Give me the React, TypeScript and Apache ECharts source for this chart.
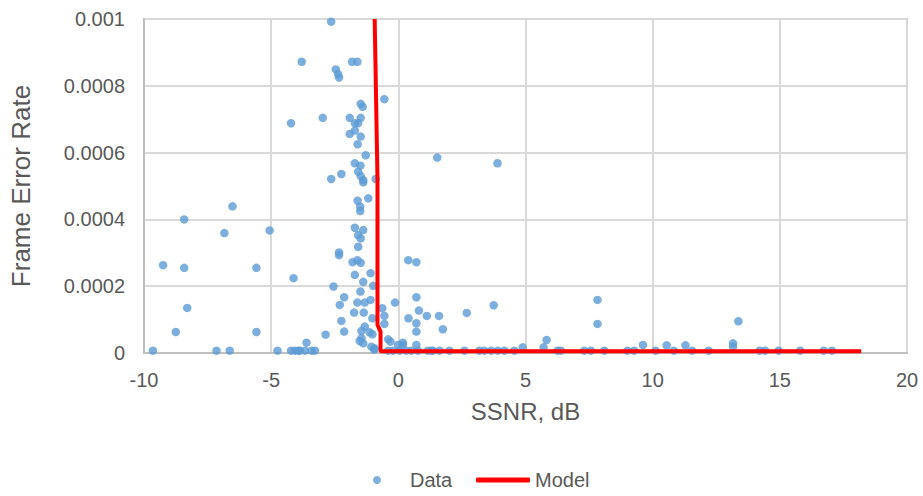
import React, { useEffect, useRef } from "react";
import * as echarts from "echarts";

const B = 0.000007;

const dataX: number[] = [
  -9.65, -9.25, -8.42, -8.42, -8.3, -8.75, -7.15, -6.84, -6.52, -6.63,
  -5.58, -5.58, -5.06, -4.75, -4.12, -4.22, -3.8, -4.22, -4.07, -3.93,
  -3.87, -3.67, -3.41, -3.28, -3.61, -2.86, -2.97, -2.64, -2.46, -2.37,
  -2.33, -1.82, -1.61, -0.55, -1.48, -1.4, -1.91, -1.48, -1.71, -1.58,
  -1.71, -1.91, -1.48, -1.6, -1.28, 1.53, 3.9, -1.71, -1.49, -1.58,
  -2.24, -2.64, -1.48, -0.89, -1.38, -1.38, -1.6, -1.18, -1.5, -1.5,
  -1.71, -1.38, -1.58, -1.48, -1.58, -2.33, -2.33, -1.8, -1.61, -1.48,
  0.39, 0.71, -1.09, -1.71, -1.38, -2.55, -0.99, -1.49, -2.13, 0.71,
  -2.3, -1.61, -1.32, -1.09, -0.13, -0.63, 0.81, -1.74, -1.36, -0.55,
  1.12, 1.6, -2.24, -1.02, 0.4, -0.55, 0.71, -1.32, -2.13, -1.45,
  -1.13, 0.71, 1.75, -1.45, -1.02, -0.4, -0.31, -1.38, -1.52, -1.06,
  -0.93, 0.71, -0.01, 0.18, 0.18, 2.69, 3.75, 7.83, 7.83, 5.83,
  9.62, 4.89, 5.71, 10.55, 11.29, 13.37, 13.16, 13.16, -0.95,
  -0.4, -0.21, 0.05, 0.31, 0.51, 0.77, 1.16, 1.36, 1.62, 1.29,
  2.01, 2.6, 3.19, 3.38, 3.65, 3.91, 4.17, 4.56, 6.26, 6.39,
  7.31, 7.57, 8.1, 9.01, 9.27, 10.12, 10.83, 11.55, 12.2, 14.21,
  14.42, 14.95, 15.8, 16.73, 17.05,
];

const dataY: number[] = [
  B, 0.000263, 0.0004, 0.000255, 0.000135, 0.000063, B, 0.000359, 0.000439, B,
  0.000255, 0.000063, 0.000367, B, 0.000224, 0.000688, 0.000872, B, B, B,
  B, B, B, B, 0.000031, 0.000055, 0.000704, 0.000992, 0.000849, 0.000835,
  0.000825, 0.000872, 0.000872, 0.00076, 0.000746, 0.000737, 0.000704, 0.000704, 0.000688, 0.000688,
  0.000666, 0.000656, 0.000648, 0.000625, 0.000592, 0.000585, 0.000568, 0.000568, 0.000561, 0.000543,
  0.000536, 0.000521, 0.00053, 0.000521, 0.000518, 0.000511, 0.000456, 0.000463, 0.000438, 0.000425,
  0.000375, 0.000368, 0.000353, 0.000343, 0.000318, 0.000301, 0.000293, 0.000272, 0.000278, 0.00027,
  0.000278, 0.000272, 0.000239, 0.000234, 0.000213, 0.000199, 0.000201, 0.000184, 0.000167, 0.000167,
  0.000144, 0.000151, 0.000151, 0.000159, 0.000151, 0.000134, 0.000127, 0.000121, 0.000121, 0.000111,
  0.000111, 0.000111, 0.000096, 0.000104, 0.000104, 0.000087, 0.000089, 0.000079, 0.000064, 0.000066,
  0.000062, 0.000064, 0.000071, 0.000044, 0.000056, 0.000041, 0.000034, 0.000029, 0.000036, 0.000019,
  0.000014, 0.000024, 0.000024, 0.000031, 0.000024, 0.00012, 0.000143, 0.000159, 0.000087, 0.000039,
  0.000024, 0.000017, 0.000017, 0.000023, 0.000023, 0.000095, 0.000029, 0.000019, 0.00001,
  B, B, B, B, B, B, B, B, B, B,
  B, B, B, B, B, B, B, B, B, B,
  B, B, B, B, B, B, B, B, B, B,
  B, B, B, B, B,
];

const modelX: number[] = [-0.93, -0.82, -0.82, -0.7, -0.7, 18.2];
const modelY: number[] = [0.001, 0.00052, 0.000084, 0.000064, 0.000005, 0.000005];

const xMin = -10;
const xMax = 20;
const xStep = 5;
const yMin = 0;
const yMax = 0.001;
const yStep = 0.0002;

const seriesNames = ["Data", "Model"];
const xTitle = "SSNR, dB";
const yTitle = "Frame Error Rate";

const FONT = "'Liberation Sans', Arial, Helvetica, sans-serif";
const TXT = "#595959";

export default function App() {
  const ref = useRef<HTMLDivElement>(null);
  useEffect(() => {
    if (!ref.current) return;
    const chart = echarts.init(ref.current, null, { renderer: "svg" });
    const scatterData = dataX.map((x, i) => [x, dataY[i]]);
    const modelData = modelX.map((x, i) => [x, modelY[i]]);
    chart.setOption({
      animation: false,
      backgroundColor: "#ffffff",
      textStyle: { fontFamily: FONT },
      grid: {
        left: 142,
        right: 16,
        top: 19,
        bottom: 143,
        show: true,
        borderColor: "#bfbfbf",
        borderWidth: 2,
        containLabel: false,
      },
      legend: [
        {
          data: [seriesNames[0]],
          left: 368,
          top: 465,
          itemWidth: 8,
          itemHeight: 8,
          icon: "circle",
          textStyle: { color: TXT, fontSize: 20, fontFamily: FONT, padding: [0, 0, 0, 24] },
        },
        {
          data: [seriesNames[1]],
          left: 471,
          top: 465,
          itemWidth: 54,
          itemHeight: 5,
          icon: "roundRect",
          textStyle: { color: TXT, fontSize: 20, fontFamily: FONT },
        },
      ],
      xAxis: {
        type: "value",
        min: xMin,
        max: xMax,
        interval: xStep,
        name: xTitle,
        nameLocation: "middle",
        nameGap: 46,
        nameTextStyle: { color: TXT, fontSize: 24, fontFamily: FONT },
        axisLine: { show: true, onZero: false, lineStyle: { color: "#bfbfbf", width: 2 } },
        axisTick: { show: false },
        axisLabel: { color: TXT, fontSize: 20, margin: 17, fontFamily: FONT },
        splitLine: { show: true, lineStyle: { color: "#d9d9d9", width: 2 } },
      },
      yAxis: {
        type: "value",
        min: yMin,
        max: yMax,
        interval: yStep,
        name: yTitle,
        nameLocation: "middle",
        nameGap: 110,
        nameTextStyle: { color: TXT, fontSize: 26, fontFamily: FONT },
        axisLine: { show: true, onZero: false, lineStyle: { color: "#bfbfbf", width: 2 } },
        axisTick: { show: false },
        axisLabel: {
          color: TXT,
          fontSize: 20,
          margin: 19,
          fontFamily: FONT,
          formatter: (v: number) => (v === 0 ? "0" : String(parseFloat(v.toFixed(4)))),
        },
        splitLine: { show: true, lineStyle: { color: "#d9d9d9", width: 2 } },
      },
      series: [
        {
          name: seriesNames[0],
          type: "scatter",
          data: scatterData,
          symbol: "circle",
          symbolSize: 8.5,
          itemStyle: { color: "#5b9bd5" },
        },
        {
          name: seriesNames[1],
          type: "line",
          data: modelData,
          showSymbol: false,
          symbol: "none",
          lineStyle: { color: "#ff0000", width: 4 },
          itemStyle: { color: "#ff0000" },
          z: 3,
        },
      ],
    });
    return () => chart.dispose();
  }, []);
  return (
    <div
      ref={ref}
      style={{ position: "fixed", left: 0, top: 0, width: 923, height: 496 }}
    />
  );
}
